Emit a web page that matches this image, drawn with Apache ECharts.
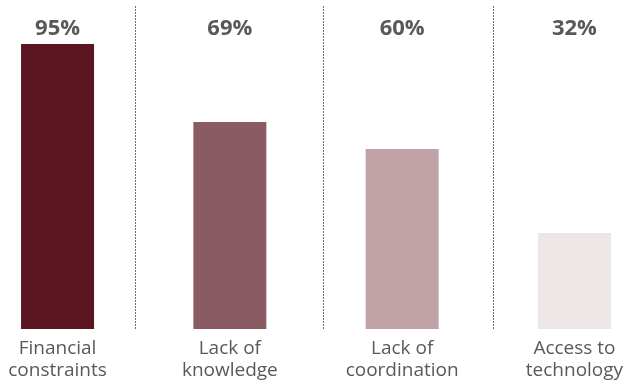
<!DOCTYPE html>
<html>
<head>
<meta charset="utf-8">
<script src="https://cdn.jsdelivr.net/npm/echarts@6/dist/echarts.min.js"></script>
<style>
  html, body { margin: 0; padding: 0; background: #fff; }
  #chart { width: 630px; height: 385px; }
</style>
</head>
<body>
<div id="chart"></div>
<script>
// Barriers reported, share of respondents (%)
const categories = ['Financial\nconstraints', 'Lack of\nknowledge', 'Lack of\ncoordination', 'Access to\ntechnology'];
const values = [95, 69, 60, 32];
const barColors = ['#5b1622', '#8b5b64', '#bfa1a6', '#ede6e7'];
// Divider positions between the categories (in category units)
const separatorPositions = [0.45, 1.54, 2.53];

const Y_MAX = 108;
const LABEL_ROW = 100.2;

const chart = echarts.init(document.getElementById('chart'), null, { renderer: 'canvas' });

chart.setOption({
  animation: false,
  grid: {
    left: -28.6, right: -30.6, top: 5, bottom: 56,
    containLabel: false,
    outerBoundsMode: 'none'
  },
  xAxis: [
    {
      type: 'category',
      data: categories,
      axisLine: { show: false },
      axisTick: { show: false },
      splitLine: { show: false },
      axisLabel: {
        color: '#595959',
        fontFamily: '"Open Sans", sans-serif',
        fontSize: 19,
        lineHeight: 22,
        margin: 9,
        interval: 0
      }
    },
    {
      type: 'value',
      min: -0.5,
      max: 3.5,
      show: false
    }
  ],
  yAxis: {
    type: 'value',
    min: 0,
    max: Y_MAX,
    show: false,
    splitLine: { show: false }
  },
  series: [
    {
      type: 'bar',
      data: values.map((v, i) => ({ value: v, itemStyle: { color: barColors[i] } })),
      barWidth: 73,
      silent: true
    },
    {
      // value labels along the top row
      type: 'scatter',
      symbolSize: 0,
      itemStyle: { opacity: 1 },
      data: values.map((v, i) => [i, LABEL_ROW, v]),
      label: {
        show: true,
        position: 'inside',
        formatter: p => p.value[2] + '%',
        color: '#595959',
        opacity: 1,
        fontFamily: '"Open Sans", sans-serif',
        fontWeight: 'bold',
        fontSize: 22
      },
      silent: true
    },
    {
      // dotted dividers between categories
      type: 'line',
      xAxisIndex: 1,
      data: [],
      silent: true,
      markLine: {
        symbol: ['none', 'none'],
        label: { show: false },
        lineStyle: { color: '#6f6f6f', width: 1, type: [2, 1] },
        data: separatorPositions.map(x => ({ xAxis: x }))
      }
    }
  ]
});
</script>
</body>
</html>
